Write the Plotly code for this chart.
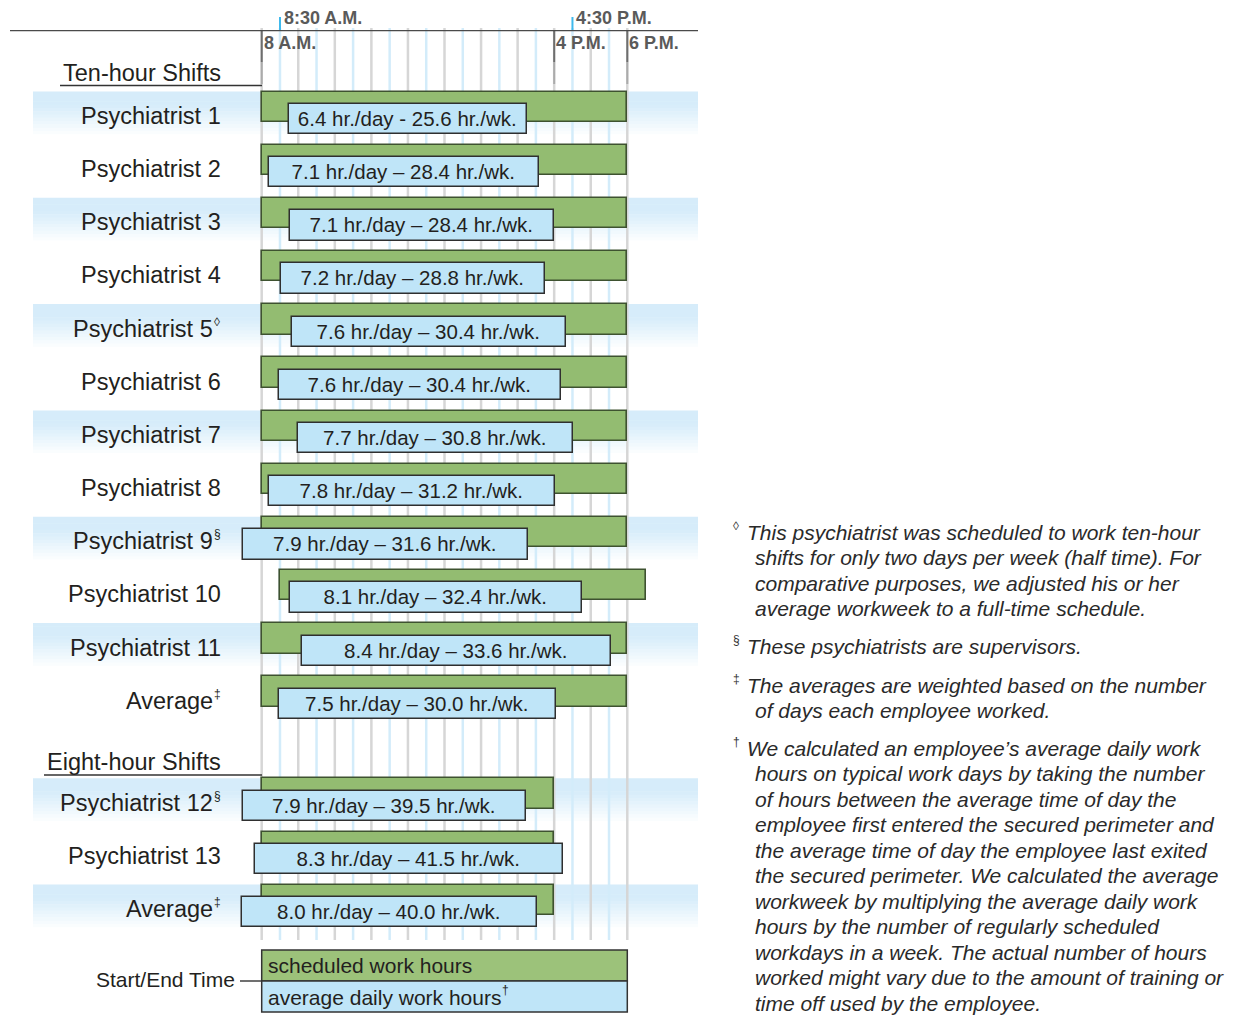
import plotly.graph_objects as go

# ---------------- data ----------------
ten_names = ["Psychiatrist 1", "Psychiatrist 2", "Psychiatrist 3", "Psychiatrist 4",
             "Psychiatrist 5", "Psychiatrist 6", "Psychiatrist 7", "Psychiatrist 8",
             "Psychiatrist 9", "Psychiatrist 10", "Psychiatrist 11", "Average"]
ten_marks = ["", "", "", "", "◊", "", "", "", "§", "", "", "‡"]
ten_sched_start = [8, 8, 8, 8, 8, 8, 8, 8, 8, 8.5, 8, 8]
ten_sched_end = [18, 18, 18, 18, 18, 18, 18, 18, 18, 18.5, 18, 18]
ten_actual_start = [8.75, 8.21, 8.77, 8.52, 8.82, 8.48, 8.99, 8.19, 7.48, 8.77, 9.11, 8.48]
ten_actual_end = [15.25, 15.59, 16.00, 15.76, 16.32, 16.20, 16.51, 16.03, 15.28, 16.77, 17.55, 16.04]
ten_hr_day = [6.4, 7.1, 7.1, 7.2, 7.6, 7.6, 7.7, 7.8, 7.9, 8.1, 8.4, 7.5]
ten_hr_wk = [25.6, 28.4, 28.4, 28.8, 30.4, 30.4, 30.8, 31.2, 31.6, 32.4, 33.6, 30.0]
ten_sep = ["-", "–", "–", "–", "–", "–", "–", "–", "–", "–", "–", "–"]

eight_names = ["Psychiatrist 12", "Psychiatrist 13", "Average"]
eight_marks = ["§", "", "‡"]
eight_sched_start = [8, 8, 8]
eight_sched_end = [16, 16, 16]
eight_actual_start = [7.48, 7.82, 7.46]
eight_actual_end = [15.23, 16.25, 15.53]
eight_hr_day = [7.9, 8.3, 8.0]
eight_hr_wk = [39.5, 41.5, 40.0]
eight_sep = ["–", "–", "–"]

top_ticks = [(8.5, "8:30 A.M."), (16.5, "4:30 P.M.")]
bottom_ticks = [(8, "8 A.M."), (16, "4 P.M."), (18, "6 P.M.")]

footnotes = [
    ("◊", ["This psychiatrist was scheduled to work ten-hour",
           "shifts for only two days per week (half time). For",
           "comparative purposes, we adjusted his or her",
           "average workweek to a full-time schedule."]),
    ("§", ["These psychiatrists are supervisors."]),
    ("‡", ["The averages are weighted based on the number",
           "of days each employee worked."]),
    ("†", ["We calculated an employee’s average daily work",
           "hours on typical work days by taking the number",
           "of hours between the average time of day the",
           "employee first entered the secured perimeter and",
           "the average time of day the employee last exited",
           "the secured perimeter. We calculated the average",
           "workweek by multiplying the average daily work",
           "hours by the number of regularly scheduled",
           "workdays in a week. The actual number of hours",
           "worked might vary due to the amount of training or",
           "time off used by the employee."]),
]

# ---------------- layout helpers ----------------
W, H = 1241, 1015
FONT = "Liberation Sans, Arial, Helvetica, sans-serif"
TXT = "#231f20"
GREEN = "#93bc71"
GREEN_EDGE = "#3e5230"
BLUE = "#bfe5f8"
PX_PER_HR = 36.56
X8_PX = 261.7
ROW0_PX = 113.0
ROW_PX = 53.15
EIGHT_OFFSET = 12.92


def hx(p):  # pixel x -> hours
    return 8 + (p - X8_PX) / PX_PER_HR


def sy(p):  # pixel y -> row slot
    return (p - ROW0_PX) / ROW_PX


def pxp(p):  # pixel x -> paper
    return p / W


def pyp(p):  # pixel y -> paper
    return 1 - p / H


ten_slots = list(range(len(ten_names)))
eight_slots = [EIGHT_OFFSET + i for i in range(len(eight_names))]

names = ten_names + eight_names
marks = ten_marks + eight_marks
slots = ten_slots + eight_slots
s_start = ten_sched_start + eight_sched_start
s_end = ten_sched_end + eight_sched_end
a_start = ten_actual_start + eight_actual_start
a_end = ten_actual_end + eight_actual_end
hr_day = ten_hr_day + eight_hr_day
hr_wk = ten_hr_wk + eight_hr_wk
seps = ten_sep + eight_sep
labels = [f"{d:.1f} hr./day {sp} {w:.1f} hr./wk." for d, w, sp in zip(hr_day, hr_wk, seps)]

OFF = 6.15 / ROW_PX
BW = 30.3 / ROW_PX

fig = go.Figure()
fig.add_trace(go.Bar(
    orientation="h", y=[s - OFF for s in slots], base=s_start,
    x=[e - b for b, e in zip(s_start, s_end)], width=BW,
    marker=dict(color=GREEN, line=dict(color=GREEN_EDGE, width=1.6)),
    hoverinfo="skip", showlegend=False))
fig.add_trace(go.Bar(
    orientation="h", y=[s + OFF for s in slots], base=a_start,
    x=[e - b for b, e in zip(a_start, a_end)], width=BW,
    marker=dict(color=BLUE, line=dict(color="#2f2f2f", width=1.5)),
    text=labels, textposition="inside", insidetextanchor="middle", textangle=0,
    constraintext="none", textfont=dict(family=FONT, size=20.5, color=TXT),
    hoverinfo="skip", showlegend=False))

shapes = []
# background bands (vertical gradient)
band_slots = [ten_slots[i] for i in range(0, len(ten_slots) - 1, 2)] + [eight_slots[0], eight_slots[2]]
NSTRIP = 14
top_c = (214, 236, 250)
for s in band_slots:
    top = ROW0_PX + s * ROW_PX - 21.5
    hgt = 46.0
    for k in range(NSTRIP):
        f = k / (NSTRIP - 1)
        t = max(0.0, (f - 0.25) / 0.75) ** 1.1
        c = tuple(int(round(top_c[j] + (255 - top_c[j]) * t)) for j in range(3))
        shapes.append(dict(type="rect", xref="paper", yref="y", layer="below",
                           x0=pxp(33), x1=pxp(698),
                           y0=sy(top + hgt * k / NSTRIP), y1=sy(top + hgt * (k + 1) / NSTRIP + 0.5),
                           fillcolor="rgb(%d,%d,%d)" % c, line=dict(width=0)))
# grid lines every half hour
for i in range(21):
    h = 8 + i * 0.5
    col = "#d6d6d6" if i % 2 == 0 else "#d3ecfa"
    shapes.append(dict(type="line", xref="x", yref="y", layer="below", x0=h, x1=h,
                       y0=sy(28), y1=sy(940), line=dict(color=col, width=2.5)))
# dark tick lines
for h, _ in bottom_ticks:
    shapes.append(dict(type="line", xref="x", yref="y", layer="below", x0=h, x1=h,
                       y0=sy(30), y1=sy(62), line=dict(color="#6e6e6e", width=2)))
    shapes.append(dict(type="line", xref="x", yref="y", layer="below", x0=h, x1=h,
                       y0=sy(62), y1=sy(84), line=dict(color="#ababab", width=2)))
for h, _ in top_ticks:
    shapes.append(dict(type="line", xref="x", yref="y", x0=h, x1=h,
                       y0=sy(17), y1=sy(30.5), line=dict(color="#3fb9ec", width=2)))
# axis line
shapes.append(dict(type="line", xref="paper", yref="y", x0=pxp(10), x1=pxp(698),
                   y0=sy(30.7), y1=sy(30.7), line=dict(color="#4a4a4a", width=1.3)))
# section underlines
shapes.append(dict(type="line", xref="paper", yref="y", x0=pxp(60), x1=pxp(262),
                   y0=sy(85.5), y1=sy(85.5), line=dict(color="#333", width=1.4)))
shapes.append(dict(type="line", xref="paper", yref="y", x0=pxp(44), x1=pxp(262),
                   y0=sy(775), y1=sy(775), line=dict(color="#333", width=1.4)))
# legend boxes
shapes.append(dict(type="rect", xref="x", yref="y", x0=8, x1=18, y0=sy(950), y1=sy(981),
                   fillcolor="#9cc27a", line=dict(color="#333", width=1.5)))
shapes.append(dict(type="rect", xref="x", yref="y", x0=8, x1=18, y0=sy(981), y1=sy(1012),
                   fillcolor=BLUE, line=dict(color="#333", width=1.5)))
shapes.append(dict(type="line", xref="paper", yref="y", x0=pxp(240), x1=pxp(261),
                   y0=sy(981), y1=sy(981), line=dict(color="#333", width=1.4)))

ann = []
# tick labels
for h, t in top_ticks:
    ann.append(dict(x=h, y=sy(18), xref="x", yref="y", text=t, showarrow=False,
                    xanchor="left", yanchor="middle", xshift=2,
                    font=dict(family=FONT, size=18, color="#5a5a5a", weight="bold")))
for h, t in bottom_ticks:
    ann.append(dict(x=h, y=sy(43), xref="x", yref="y", text=t, showarrow=False,
                    xanchor="left", yanchor="middle", xshift=0,
                    font=dict(family=FONT, size=18, color="#5a5a5a", weight="bold")))
# section headers
ann.append(dict(x=pxp(223), y=sy(73), xref="paper", yref="y", text="Ten-hour Shifts",
                showarrow=False, xanchor="right", yanchor="middle",
                font=dict(family=FONT, size=23.5, color=TXT)))
ann.append(dict(x=pxp(223), y=sy(762), xref="paper", yref="y", text="Eight-hour Shifts",
                showarrow=False, xanchor="right", yanchor="middle",
                font=dict(family=FONT, size=23.5, color=TXT)))
# row labels (main text right-aligned, small superscript mark appended)
MARK_W = 8
for n, m, s in zip(names, marks, slots):
    ann.append(dict(x=pxp(223 - (MARK_W if m else 0)), y=s + 3 / ROW_PX, xref="paper", yref="y",
                    text=n, showarrow=False, xanchor="right", yanchor="middle",
                    font=dict(family=FONT, size=23.5, color=TXT)))
    if m:
        ann.append(dict(x=pxp(223 - MARK_W - 3), y=s + 3 / ROW_PX, xref="paper", yref="y",
                        text=m, showarrow=False, xanchor="left", yanchor="middle", yshift=7,
                        font=dict(family=FONT, size=12, color=TXT)))
# legend text
ann.append(dict(x=8, y=sy(965.5), xref="x", yref="y", text="scheduled work hours",
                showarrow=False, xanchor="left", yanchor="middle", xshift=4,
                font=dict(family=FONT, size=21, color=TXT)))
ann.append(dict(x=8, y=sy(997), xref="x", yref="y", text="average daily work hours",
                showarrow=False, xanchor="left", yanchor="middle", xshift=4,
                font=dict(family=FONT, size=21, color=TXT)))
ann.append(dict(x=hx(500), y=sy(990), xref="x", yref="y", text="†",
                showarrow=False, xanchor="left", yanchor="middle",
                font=dict(family=FONT, size=12, color=TXT)))
ann.append(dict(x=pxp(237), y=sy(979), xref="paper", yref="y", text="Start/End Time",
                showarrow=False, xanchor="right", yanchor="middle",
                font=dict(family=FONT, size=21, color=TXT)))
# footnotes
block_top = [532, 646, 685, 748]
PITCH = 25.55
for (sym, lines), y0 in zip(footnotes, block_top):
    ann.append(dict(x=pxp(731), y=pyp(y0 - 6), xref="paper", yref="paper", text=sym,
                    showarrow=False, xanchor="left", yanchor="middle",
                    font=dict(family=FONT, size=12, color="#333")))
    for i, ln in enumerate(lines):
        ann.append(dict(x=pxp(745 if i == 0 else 753), y=pyp(y0 + i * PITCH),
                        xref="paper", yref="paper", text=ln, showarrow=False,
                        xanchor="left", yanchor="middle",
                        font=dict(family=FONT, size=21, color="#2a2a2a", style="italic")))

fig.update_layout(
    width=W, height=H, margin=dict(l=0, r=0, t=0, b=0),
    paper_bgcolor="white", plot_bgcolor="white",
    barmode="overlay", bargap=0,
    xaxis=dict(visible=False, range=[hx(0), hx(W)], domain=[0, 1], fixedrange=True),
    yaxis=dict(visible=False, range=[sy(H), sy(0)], domain=[0, 1], fixedrange=True),
    shapes=shapes, annotations=ann, showlegend=False,
)

fig.write_html("out.html", config={"displayModeBar": False},
               post_script="document.body.style.margin='0';document.body.style.overflow='hidden';")
